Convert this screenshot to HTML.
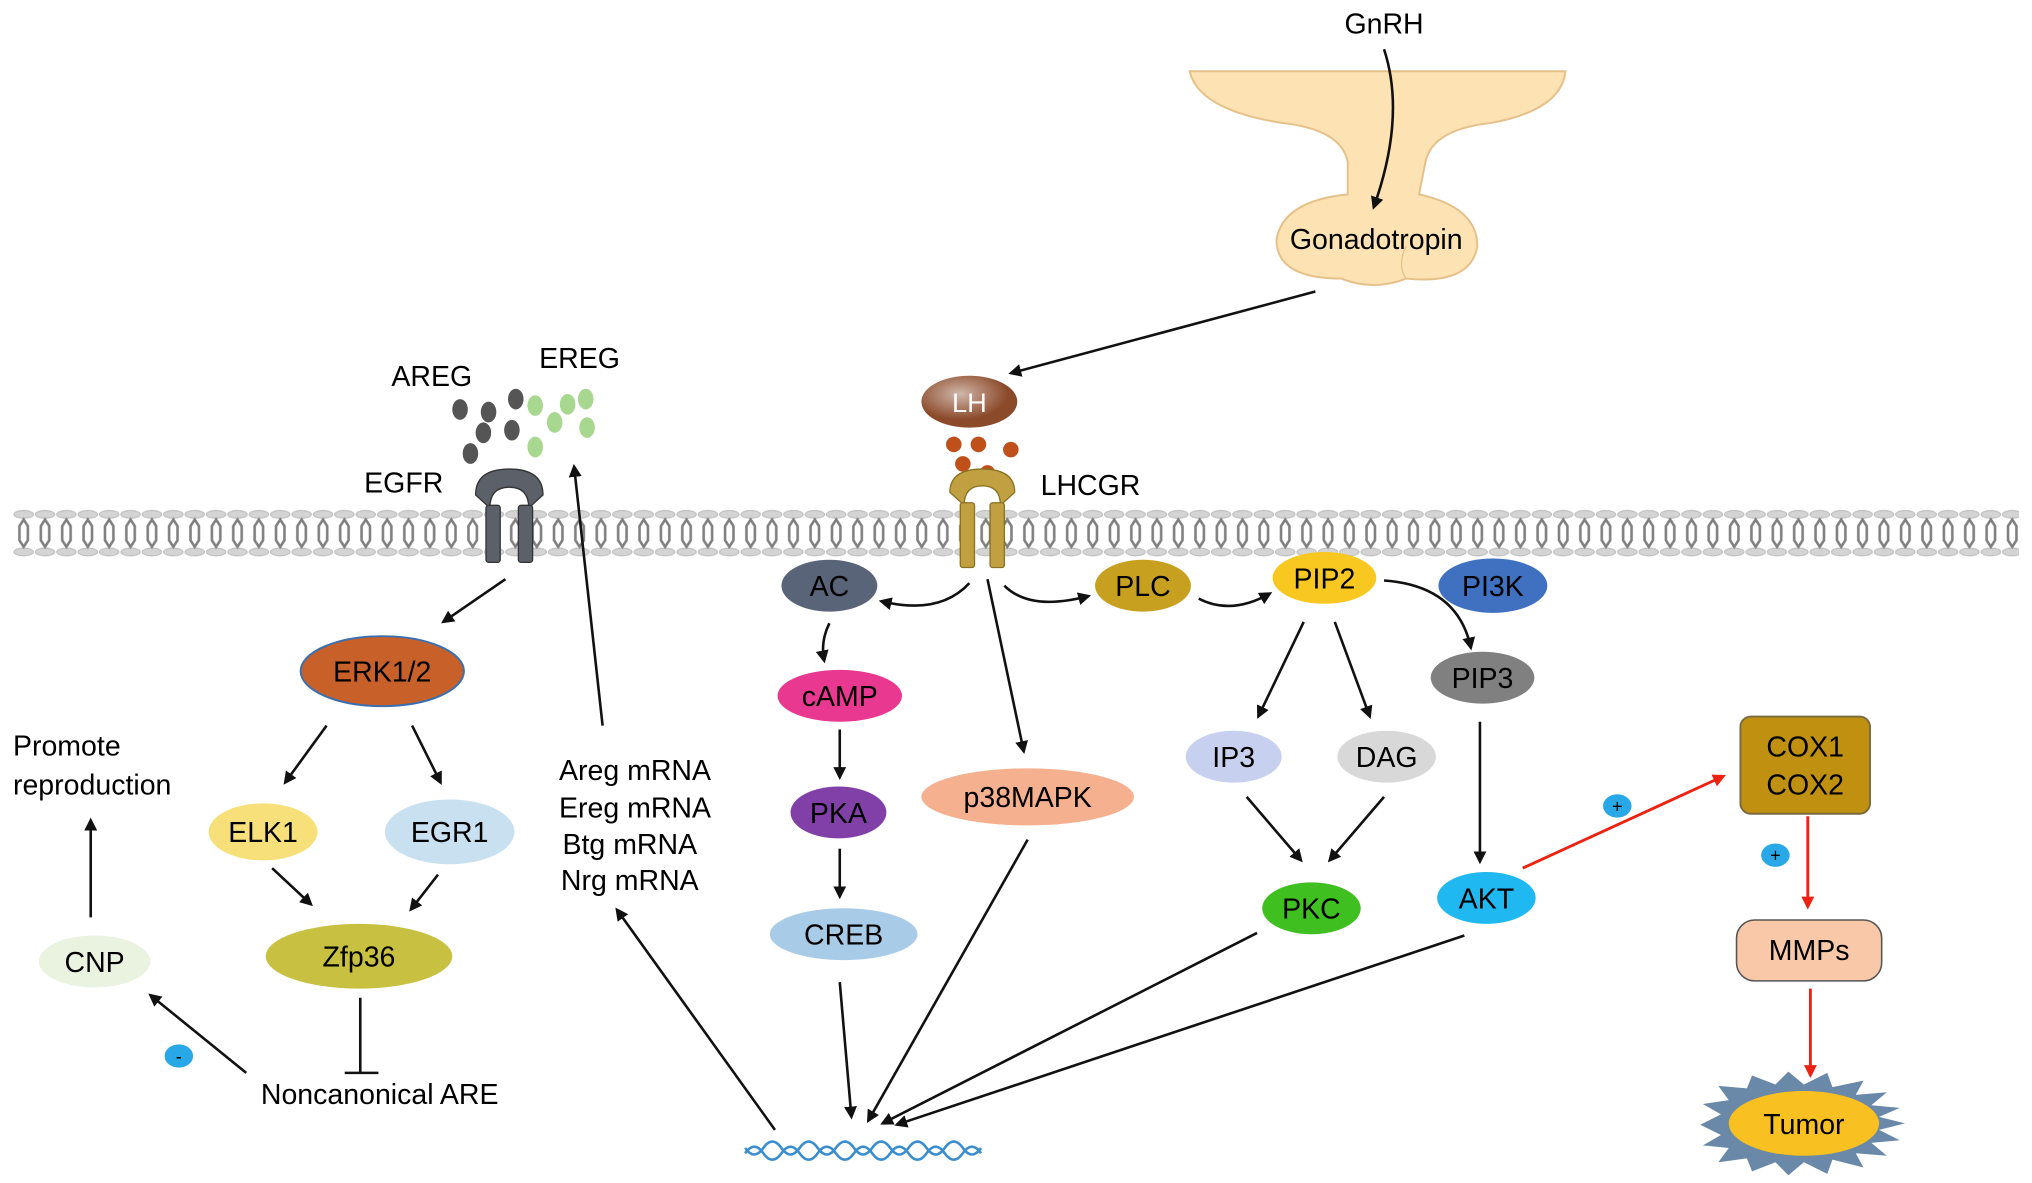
<!DOCTYPE html>
<html><head><meta charset="utf-8"><style>
html,body{margin:0;padding:0;background:#fff;}
svg{display:block}
text{font-family:"Liberation Sans",Arial,sans-serif;}
</style></head><body>
<svg width="2032" height="1183" viewBox="0 0 1568 913" preserveAspectRatio="none" xmlns="http://www.w3.org/2000/svg">
<defs>
<marker id="a" markerWidth="10" markerHeight="10" refX="8" refY="5" orient="auto" markerUnits="userSpaceOnUse"><path d="M0,0 L10,5 L0,10 z" fill="#111"/></marker>
<marker id="r" markerWidth="10" markerHeight="10" refX="8" refY="5" orient="auto" markerUnits="userSpaceOnUse"><path d="M0,0 L10,5 L0,10 z" fill="#e21"/></marker>
<pattern id="mem" x="10" y="393" width="16.5" height="37" patternUnits="userSpaceOnUse">
<ellipse cx="8.25" cy="4" rx="7.5" ry="3" fill="#d4d4d4" stroke="#bbb" stroke-width="0.8"/>
<ellipse cx="8.25" cy="33" rx="7.5" ry="3" fill="#d4d4d4" stroke="#bbb" stroke-width="0.8"/>
<polygon points="8.25,8 11.5,13 11.5,24 8.25,29 5,24 5,13" fill="none" stroke="#808080" stroke-width="2"/>
</pattern>
<radialGradient id="g1" cx="40%" cy="35%"><stop offset="0" stop-color="#fff" stop-opacity=".6"/><stop offset="1" stop-color="#fff" stop-opacity="0"/></radialGradient>
</defs>

<!-- membrane -->
<rect x="10" y="393" width="1548" height="37" fill="url(#mem)"/>

<!-- pituitary -->
<path d="M918,55 L1208,55 Q1205,85 1150,95 Q1105,100 1100,125 L1095,150 Q1140,160 1140,190 Q1135,220 1085,215 Q1060,225 1035,215 Q985,215 985,185 Q990,155 1040,150 L1040,125 Q1035,100 990,95 Q925,85 918,55 z" fill="#fde3b4" stroke="#e6c088" stroke-width="1.5"/>
<path d="M1085,190 Q1078,205 1085,215" fill="none" stroke="#e6c088"/>
<text x="1068" y="26" font-size="22" text-anchor="middle">GnRH</text>
<path d="M1068,38 Q1085,90 1060,160" fill="none" stroke="#111" stroke-width="2" marker-end="url(#a)"/>
<text x="1062" y="192" font-size="22" text-anchor="middle">Gonadotropin</text>
<line x1="1015" y1="225" x2="780" y2="288" stroke="#111" stroke-width="2" marker-end="url(#a)"/>

<!-- LH -->
<ellipse cx="748" cy="310" rx="37" ry="20" fill="#8b4a2a"/><ellipse cx="748" cy="310" rx="37" ry="20" fill="url(#g1)"/>
<text x="748" y="318" font-size="21" text-anchor="middle" fill="#fff">LH</text>
<g fill="#c0501a"><circle cx="736" cy="343" r="6"/><circle cx="755" cy="343" r="6"/><circle cx="780" cy="347" r="6"/><circle cx="743" cy="358" r="6"/><circle cx="762" cy="365" r="6"/></g>
<!-- LHCGR -->
<g fill="#c0a040" stroke="#8a7020" stroke-width="1">
<path d="M733,380 Q733,362 758,362 Q783,362 783,380 L772,390 Q772,375 758,375 Q744,375 744,390 z"/>
<rect x="741" y="388" width="11" height="50" rx="2"/><rect x="764" y="388" width="11" height="50" rx="2"/>
</g>
<text x="803" y="382" font-size="22">LHCGR</text>

<!-- EGFR -->
<g fill="#5c6068" stroke="#333" stroke-width="1">
<path d="M367,382 Q367,362 393,362 Q419,362 419,382 L408,392 Q408,376 393,376 Q378,376 378,392 z"/>
<rect x="375" y="390" width="11" height="44" rx="2"/><rect x="400" y="390" width="11" height="44" rx="2"/>
</g>
<text x="281" y="380" font-size="22">EGFR</text>
<text x="302" y="298" font-size="22">AREG</text>
<text x="416" y="284" font-size="22">EREG</text>
<g fill="#555"><ellipse cx="355" cy="316" rx="6" ry="8"/><ellipse cx="377" cy="318" rx="6" ry="8"/><ellipse cx="398" cy="308" rx="6" ry="8"/><ellipse cx="373" cy="334" rx="6" ry="8"/><ellipse cx="395" cy="332" rx="6" ry="8"/><ellipse cx="363" cy="350" rx="6" ry="8"/></g>
<g fill="#a8d890"><ellipse cx="413" cy="313" rx="6" ry="8"/><ellipse cx="438" cy="312" rx="6" ry="8"/><ellipse cx="452" cy="308" rx="6" ry="8"/><ellipse cx="428" cy="326" rx="6" ry="8"/><ellipse cx="453" cy="330" rx="6" ry="8"/><ellipse cx="413" cy="345" rx="6" ry="8"/></g>

<!-- left branch -->
<line x1="390" y1="447" x2="342" y2="480" stroke="#111" stroke-width="2" marker-end="url(#a)"/>
<ellipse cx="295" cy="518" rx="63" ry="27" fill="#c8602a" stroke="#3a70b0" stroke-width="1.5"/>
<text x="295" y="526" font-size="22" text-anchor="middle">ERK1/2</text>
<line x1="252" y1="560" x2="220" y2="604" stroke="#111" stroke-width="2" marker-end="url(#a)"/>
<line x1="318" y1="560" x2="340" y2="604" stroke="#111" stroke-width="2" marker-end="url(#a)"/>
<ellipse cx="203" cy="642" rx="42" ry="22" fill="#f7e07a"/>
<text x="203" y="650" font-size="22" text-anchor="middle">ELK1</text>
<ellipse cx="347" cy="642" rx="50" ry="25" fill="#c8e0f0"/>
<text x="347" y="650" font-size="22" text-anchor="middle">EGR1</text>
<line x1="210" y1="670" x2="240" y2="698" stroke="#111" stroke-width="2" marker-end="url(#a)"/>
<line x1="338" y1="675" x2="317" y2="702" stroke="#111" stroke-width="2" marker-end="url(#a)"/>
<ellipse cx="277" cy="738" rx="72" ry="25" fill="#c8c040"/>
<text x="277" y="746" font-size="22" text-anchor="middle">Zfp36</text>
<line x1="278" y1="770" x2="278" y2="828" stroke="#111" stroke-width="2"/><line x1="266" y1="828" x2="292" y2="828" stroke="#111" stroke-width="2"/>
<text x="293" y="852" font-size="22" text-anchor="middle">Noncanonical ARE</text>
<line x1="190" y1="828" x2="116" y2="768" stroke="#111" stroke-width="2" marker-end="url(#a)"/>
<ellipse cx="138" cy="815" rx="11" ry="9" fill="#29a8e8"/><text x="138" y="820" font-size="14" text-anchor="middle">-</text>
<ellipse cx="73" cy="742" rx="43" ry="20" fill="#eaf2e0"/>
<text x="73" y="750" font-size="22" text-anchor="middle">CNP</text>
<line x1="70" y1="708" x2="70" y2="633" stroke="#111" stroke-width="2" marker-end="url(#a)"/>
<text x="10" y="583" font-size="22">Promote</text>
<text x="10" y="613" font-size="22">reproduction</text>

<!-- mRNA -->
<line x1="465" y1="560" x2="443" y2="360" stroke="#111" stroke-width="2" marker-end="url(#a)"/>
<g font-size="22" text-anchor="middle"><text x="490" y="602">Areg mRNA</text><text x="490" y="631">Ereg mRNA</text><text x="486" y="659">Btg mRNA</text><text x="486" y="687">Nrg mRNA</text></g>
<line x1="598" y1="872" x2="476" y2="702" stroke="#111" stroke-width="2" marker-end="url(#a)"/>

<!-- DNA -->
<g fill="none" stroke="#3a8ed0" stroke-width="2">
<path d="M575,890 q7,-10 14,0 t14,0 t14,0 t14,0 t14,0 t14,0 t14,0 t14,0 t14,0 t14,0 t14,0 t14,0 t14,0"/>
<path d="M575,886 q7,10 14,0 t14,0 t14,0 t14,0 t14,0 t14,0 t14,0 t14,0 t14,0 t14,0 t14,0 t14,0 t14,0"/>
</g>

<!-- AC branch -->
<path d="M748,450 Q725,475 680,464" fill="none" stroke="#111" stroke-width="2" marker-end="url(#a)"/>
<ellipse cx="640" cy="452" rx="37" ry="20" fill="#5a6478"/><text x="640" y="460" font-size="22" text-anchor="middle">AC</text>
<path d="M640,481 Q633,495 636,510" fill="none" stroke="#111" stroke-width="2" marker-end="url(#a)"/>
<ellipse cx="648" cy="537" rx="48" ry="20" fill="#e83890"/><text x="648" y="545" font-size="22" text-anchor="middle">cAMP</text>
<line x1="648" y1="563" x2="648" y2="600" stroke="#111" stroke-width="2" marker-end="url(#a)"/>
<ellipse cx="647" cy="627" rx="37" ry="20" fill="#8040a8"/><text x="647" y="635" font-size="22" text-anchor="middle">PKA</text>
<line x1="648" y1="655" x2="648" y2="692" stroke="#111" stroke-width="2" marker-end="url(#a)"/>
<ellipse cx="651" cy="721" rx="57" ry="20" fill="#a8cce8"/><text x="651" y="729" font-size="22" text-anchor="middle">CREB</text>
<line x1="648" y1="758" x2="657" y2="862" stroke="#111" stroke-width="2" marker-end="url(#a)"/>

<line x1="762" y1="447" x2="790" y2="580" stroke="#111" stroke-width="2" marker-end="url(#a)"/>
<ellipse cx="793" cy="615" rx="82" ry="22" fill="#f5b090"/><text x="793" y="623" font-size="22" text-anchor="middle">p38MAPK</text>
<line x1="793" y1="648" x2="670" y2="865" stroke="#111" stroke-width="2" marker-end="url(#a)"/>

<!-- PLC branch -->
<path d="M775,452 Q795,472 840,460" fill="none" stroke="#111" stroke-width="2" marker-end="url(#a)"/>
<ellipse cx="882" cy="452" rx="37" ry="20" fill="#c8a020"/><text x="882" y="460" font-size="22" text-anchor="middle">PLC</text>
<path d="M925,462 Q950,475 980,458" fill="none" stroke="#111" stroke-width="2" marker-end="url(#a)"/>
<ellipse cx="1022" cy="446" rx="40" ry="20" fill="#f8c820"/><text x="1022" y="454" font-size="22" text-anchor="middle">PIP2</text>
<ellipse cx="1152" cy="452" rx="42" ry="21" fill="#4070c0"/><text x="1152" y="460" font-size="22" text-anchor="middle">PI3K</text>
<path d="M1068,448 Q1125,452 1135,500" fill="none" stroke="#111" stroke-width="2" marker-end="url(#a)"/>
<ellipse cx="1144" cy="523" rx="40" ry="20" fill="#808080"/><text x="1144" y="531" font-size="22" text-anchor="middle">PIP3</text>
<line x1="1006" y1="480" x2="971" y2="553" stroke="#111" stroke-width="2" marker-end="url(#a)"/>
<line x1="1030" y1="480" x2="1057" y2="553" stroke="#111" stroke-width="2" marker-end="url(#a)"/>
<ellipse cx="952" cy="584" rx="37" ry="20" fill="#c8d0f0"/><text x="952" y="592" font-size="22" text-anchor="middle">IP3</text>
<ellipse cx="1070" cy="584" rx="38" ry="20" fill="#d8d8d8"/><text x="1070" y="592" font-size="22" text-anchor="middle">DAG</text>
<line x1="962" y1="615" x2="1004" y2="664" stroke="#111" stroke-width="2" marker-end="url(#a)"/>
<line x1="1068" y1="615" x2="1026" y2="664" stroke="#111" stroke-width="2" marker-end="url(#a)"/>
<ellipse cx="1012" cy="701" rx="38" ry="20" fill="#40c020"/><text x="1012" y="709" font-size="22" text-anchor="middle">PKC</text>
<line x1="1142" y1="557" x2="1142" y2="665" stroke="#111" stroke-width="2" marker-end="url(#a)"/>
<ellipse cx="1147" cy="693" rx="38" ry="20" fill="#20b8f0"/><text x="1147" y="701" font-size="22" text-anchor="middle">AKT</text>
<line x1="970" y1="720" x2="681" y2="867" stroke="#111" stroke-width="2" marker-end="url(#a)"/>
<line x1="1130" y1="722" x2="692" y2="868" stroke="#111" stroke-width="2" marker-end="url(#a)"/>

<!-- right -->
<line x1="1175" y1="670" x2="1330" y2="599" stroke="#e21" stroke-width="2.2" marker-end="url(#r)"/>
<ellipse cx="1248" cy="622" rx="11" ry="9" fill="#29a8e8"/><text x="1248" y="627" font-size="14" text-anchor="middle">+</text>
<rect x="1343" y="553" width="100" height="75" rx="8" fill="#c09010" stroke="#7a6a40" stroke-width="1.5"/>
<text x="1393" y="584" font-size="22" text-anchor="middle">COX1</text><text x="1393" y="613" font-size="22" text-anchor="middle">COX2</text>
<line x1="1395" y1="630" x2="1395" y2="700" stroke="#e21" stroke-width="2.2" marker-end="url(#r)"/>
<ellipse cx="1370" cy="660" rx="11" ry="9" fill="#29a8e8"/><text x="1370" y="665" font-size="14" text-anchor="middle">+</text>
<rect x="1340" y="710" width="112" height="47" rx="14" fill="#f8c8a8" stroke="#555" stroke-width="1.2"/>
<text x="1396" y="741" font-size="22" text-anchor="middle">MMPs</text>
<line x1="1397" y1="763" x2="1397" y2="830" stroke="#e21" stroke-width="2.2" marker-end="url(#r)"/>
<polygon fill="#6a88a8" points="1470,867 1450,872 1466,880 1444,882 1456,892 1432,890 1438,901 1414,895 1410,906 1392,897 1380,907 1370,897 1352,904 1348,894 1326,897 1334,886 1314,884 1328,876 1312,868 1328,860 1314,852 1334,849 1326,838 1348,840 1352,830 1370,837 1380,827 1392,837 1410,828 1414,839 1438,834 1432,845 1456,843 1444,853 1466,855 1450,862"/>
<ellipse cx="1392" cy="867" rx="58" ry="25" fill="#f8c020"/>
<text x="1392" y="875" font-size="22" text-anchor="middle">Tumor</text>
</svg>
</body></html>
